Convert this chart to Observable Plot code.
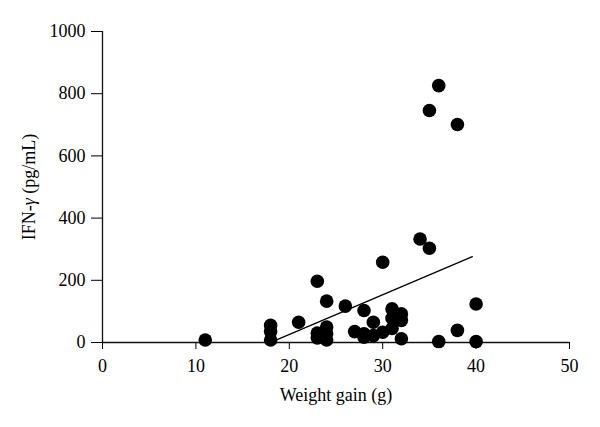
<!DOCTYPE html>
<html>
<head>
<meta charset="utf-8">
<script src="https://cdn.jsdelivr.net/npm/d3@7"></script>
<script src="https://cdn.jsdelivr.net/npm/@observablehq/plot@0.6"></script>
<style>
  html, body { margin: 0; padding: 0; background: #fff; }
  #chart svg text { font-size: 18px; font-family: 'Liberation Serif', serif; fill: #000; }
</style>
</head>
<body>
<div id="chart"></div>
<script>
const weightGain = [11, 18, 18, 18, 21, 23, 23, 23, 24, 24, 24, 24, 26, 27, 28, 28, 28, 29, 29, 30, 30, 31, 31, 31, 32, 32, 32, 34, 35, 35, 36, 36, 38, 38, 40, 40];
const ifnGamma   = [8, 55, 35, 8, 65, 197, 30, 15, 133, 50, 28, 8, 117, 35, 103, 28, 17, 65, 22, 258, 33, 108, 78, 45, 92, 71, 12, 333, 746, 303, 826, 3, 701, 39, 124, 3];
const fitX = [18.7, 39.6];
const fitY = [9, 276];
const xTicks = [0, 10, 20, 30, 40, 50];
const yTicks = [0, 200, 400, 600, 800, 1000];

const points = weightGain.map((x, i) => ({x, y: ifnGamma[i]}));
const fit = fitX.map((x, i) => ({x, y: fitY[i]}));

const chart = Plot.plot({
  width: 600,
  height: 427,
  marginLeft: 102,
  marginRight: 31,
  marginTop: 31,
  marginBottom: 85,
  style: {fontFamily: "'Liberation Serif', serif", fontSize: "18px", color: "#000", background: "#fff"},
  x: {domain: [0, 50]},
  y: {domain: [0, 1000]},
  marks: [
    Plot.axisX({ticks: xTicks, tickFormat: d => String(d), tickSize: 7, tickPadding: 10, label: "Weight gain (g)", labelAnchor: "center", labelOffset: 58, labelArrow: "none"}),
    Plot.axisY({ticks: yTicks, tickFormat: d => String(d), tickSize: 11, tickPadding: 6, label: "IFN-γ (pg/mL)", labelAnchor: "center", labelOffset: 80, labelArrow: "none"}),
    Plot.ruleY([0], {stroke: "#111", strokeWidth: 1.3}),
    Plot.ruleX([0], {stroke: "#111", strokeWidth: 1.3}),
    Plot.line(fit, {x: "x", y: "y", stroke: "#000", strokeWidth: 1.3}),
    Plot.dot(points, {x: "x", y: "y", r: 6.8, fill: "#000", stroke: "none"})
  ]
});
document.getElementById("chart").appendChild(chart);

// italicize the gamma in the y-axis label
d3.select(chart).selectAll("text").each(function() {
  const t = d3.select(this);
  if (t.text() === "IFN-γ (pg/mL)") {
    t.text(null);
    t.append("tspan").text("IFN-");
    t.append("tspan").attr("font-style", "italic").text("γ");
    t.append("tspan").text(" (pg/mL)");
  }
});
</script>
</body>
</html>
